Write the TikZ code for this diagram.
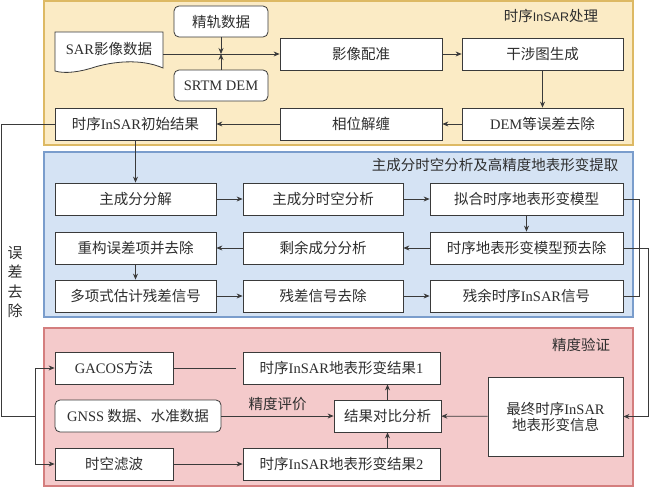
\documentclass[tikz,border=0pt]{standalone}
\usepackage{fontspec}
\setmainfont{Noto Sans CJK SC}
\newfontfamily\lat{Liberation Serif}
\newfontfamily\latsans{Liberation Sans}
\usetikzlibrary{arrows.meta}
\definecolor{boxline}{HTML}{3A3A3A}
\definecolor{txt}{HTML}{2E2E2E}
\definecolor{yfill}{HTML}{FBEBC5}
\definecolor{ybord}{HTML}{DDB964}
\definecolor{bfill}{HTML}{D5E3F4}
\definecolor{bbord}{HTML}{7A9DCC}
\definecolor{rfill}{HTML}{F4CACB}
\definecolor{rbord}{HTML}{D47E7E}
\newcommand{\fs}{\fontsize{14.5}{16}\selectfont}
\newcommand{\fsv}{\fontsize{15}{19.3}\selectfont}
\begin{document}
\begin{tikzpicture}[x=1pt,y=-1pt,
  box/.style={draw=boxline, fill=white, line width=0.8pt, minimum height=32pt, inner sep=0pt, font=\fs, text=txt},
  rbox/.style={box, rounded corners=5pt},
  arr/.style={-{Stealth[length=6pt,width=5pt]}, line width=0.7pt, draw=boxline},
  ln/.style={line width=0.7pt, draw=boxline},
  ttl/.style={font=\fs, text=txt, inner sep=0pt},
  panel/.style={line width=1.5pt}]
\useasboundingbox (0,0) rectangle (650,487);
% panels
\draw[panel, draw=ybord, fill=yfill] (44,1) rectangle (633,145);
\draw[panel, draw=bbord, fill=bfill] (44,152) rectangle (633,317);
\draw[panel, draw=rbord, fill=rfill] (44,328) rectangle (633,486);
\node[ttl] (t1) at (551,16) {时序{\latsans\fontsize{12.5}{14}\selectfont InSAR}处理};
\node[ttl] (t2) at (495,165) {主成分时空分析及高精度地表形变提取};
\node[ttl] (t3) at (581,345) {精度验证};
% yellow panel
\draw[draw=boxline, fill=white, line width=0.8pt] (55,32) -- (163,32) -- (163,68)
  .. controls (140,58) and (112,62) .. (95,67) .. controls (80,72) and (65,74) .. (55,71) -- cycle;
\node[ttl, minimum width=108pt] (sar) at (109,49) {{\lat SAR}影像数据};
\node[rbox, minimum width=94pt, minimum height=31pt] (orbit) at (221,21.5) {精轨数据};
\node[rbox, minimum width=94pt, minimum height=31pt] (srtm) at (221,85.5) {\lat SRTM DEM};
\node[box, minimum width=162pt] (reg) at (361,54) {影像配准};
\node[box, minimum width=161pt] (ifg) at (542.5,54) {干涉图生成};
\node[box, minimum width=161pt] (dem) at (542.5,124) {{\lat DEM}等误差去除};
\node[box, minimum width=162pt] (unw) at (361,124) {相位解缠};
\node[box, minimum width=161pt] (init) at (135.5,124) {时序{\lat InSAR}初始结果};
\draw[arr] (sar.east |- reg.west) -- (reg.west);
\draw[arr] (orbit.south) -- (orbit.south |- reg.west);
\draw[arr] (srtm.north) -- (srtm.north |- reg.west);
\draw[arr] (reg) -- (ifg);
\draw[arr] (ifg) -- (dem);
\draw[arr] (dem) -- (unw);
\draw[arr] (unw) -- (init);
% blue panel
\node[box, minimum width=161pt] (pca) at (135.5,199) {主成分分解};
\node[box, minimum width=160pt] (pcst) at (323,199) {主成分时空分析};
\node[box, minimum width=193pt] (fit) at (526.5,199) {拟合时序地表形变模型};
\node[box, minimum width=161pt] (rec) at (135.5,248) {重构误差项并去除};
\node[box, minimum width=160pt] (rem) at (323,248) {剩余成分分析};
\node[box, minimum width=193pt] (pre) at (526.5,248) {时序地表形变模型预去除};
\node[box, minimum width=161pt] (poly) at (135.5,296) {多项式估计残差信号};
\node[box, minimum width=160pt] (rrm) at (323,296) {残差信号去除};
\node[box, minimum width=193pt] (resid) at (526.5,296) {残余时序{\lat InSAR}信号};
\draw[arr] (init) -- (pca);
\draw[arr] (pca) -- (pcst);
\draw[arr] (pcst) -- (fit);
\draw[arr] (fit) -- (pre);
\draw[arr] (pre) -- (rem);
\draw[arr] (rem) -- (rec);
\draw[arr] (rec) -- (poly);
\draw[arr] (poly) -- (rrm);
\draw[arr] (rrm) -- (resid);
% red panel
\node[box, minimum width=118pt] (gacos) at (114,368) {{\lat GACOS}方法};
\node[rbox, minimum width=166pt] (gnss) at (138,416) {{\lat GNSS} 数据、水准数据};
\node[box, minimum width=118pt] (filt) at (114,464) {时空滤波};
\node[box, minimum width=197pt] (res1) at (341.5,368) {时序{\lat InSAR}地表形变结果{\lat 1}};
\node[box, minimum width=197pt] (res2) at (341.5,464) {时序{\lat InSAR}地表形变结果{\lat 2}};
\node[box, minimum width=107pt] (cmp) at (387.5,416) {结果对比分析};
\node[box, minimum width=135pt, minimum height=79pt, align=center] (final) at (555.5,416.5)
  {最终时序{\lat InSAR}\\地表形变信息};
\draw[ln, shorten >=7pt] (gacos) -- (res1);
\draw[arr] (gnss) -- node[ttl, above=5pt] (lbl) {精度评价} (cmp);
\draw[arr] (filt) -- (res2);
\draw[arr] (cmp.north) -- (cmp.north |- res1.south);
\draw[arr] (cmp.south |- res2.north) -- (cmp.south);
\draw[arr] (final) -- (cmp);
% right connectors
\draw[ln] (fit.east) -- ++(16,0) |- (resid.east);
\draw[arr] (pre.east) -- ++(25,0) |- (final.east);
% left connector
\coordinate (jl) at (35,416);
\draw[ln] (init.west) -- ++(-53,0) |- (jl);
\draw[arr] (jl) |- (gacos.west);
\draw[arr] (jl) |- (filt.west);
\node[ttl, align=center, font=\fsv] (err) at (15,282) {误\\差\\去\\除};
\end{tikzpicture}
\end{document}
